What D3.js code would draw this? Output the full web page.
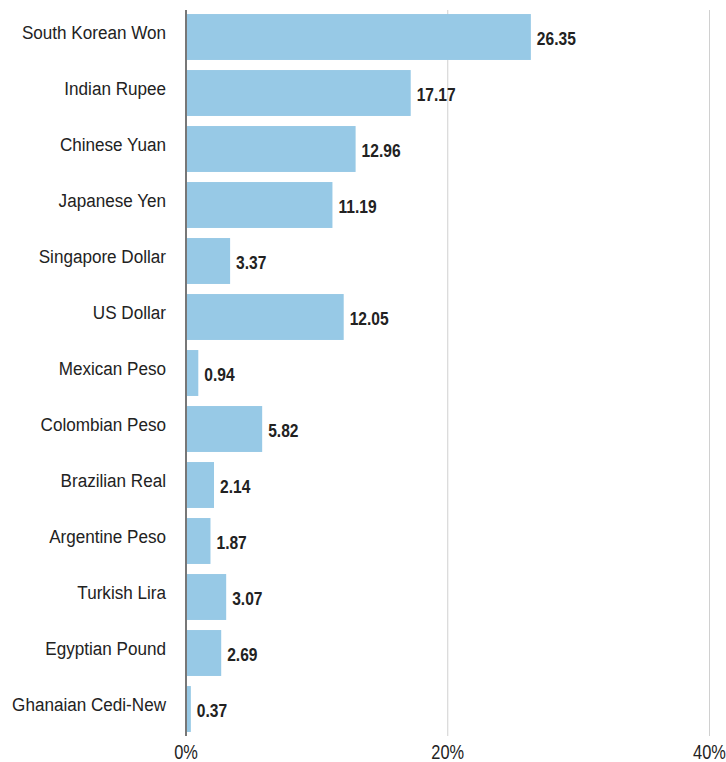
<!DOCTYPE html>
<html><head><meta charset="utf-8">
<script src="https://cdn.jsdelivr.net/npm/d3@7"></script>
<style>
html,body{margin:0;padding:0;background:#fff;}
svg{display:block;}
text{font-family:"Liberation Sans",Arial,sans-serif;}
</style>
</head><body>
<svg id="chart" width="726" height="762"></svg>
<script>
const categories = ["South Korean Won","Indian Rupee","Chinese Yuan","Japanese Yen","Singapore Dollar","US Dollar","Mexican Peso","Colombian Peso","Brazilian Real","Argentine Peso","Turkish Lira","Egyptian Pound","Ghanaian Cedi-New"];
const values = [26.35,17.17,12.96,11.19,3.37,12.05,0.94,5.82,2.14,1.87,3.07,2.69,0.37];
const xTicks = [0,20,40];
const xTickLabels = ["0%","20%","40%"];

const svg = d3.select("#chart");
const x = d3.scaleLinear().domain([0,40]).range([186,709.5]);
const y = d3.scaleBand().domain(categories).range([9,737]).paddingInner(0.18).paddingOuter(0.09);
const SX = 0.82;
const SXC = 0.9;

// gridlines
svg.append("g").selectAll("line").data(xTicks.filter(d=>d>0)).join("line")
  .attr("x1",d=>x(d)).attr("x2",d=>x(d)).attr("y1",10).attr("y2",736)
  .attr("stroke","#d0d0d0").attr("stroke-width",1);

// bars
svg.append("g").selectAll("rect").data(values).join("rect")
  .attr("x",x(0)).attr("y",(d,i)=>y(categories[i]))
  .attr("width",d=>x(d)-x(0)).attr("height",y.bandwidth())
  .attr("fill","#97c9e6");

// axis line
svg.append("line").attr("x1",x(0)).attr("x2",x(0)).attr("y1",10).attr("y2",736)
  .attr("stroke","#777").attr("stroke-width",2);

// category labels
svg.append("g").selectAll("text").data(categories).join("text")
  .attr("transform",d=>`translate(166,${y(d)+y.bandwidth()/2+2}) scale(${SXC},1)`)
  .attr("text-anchor","end").attr("font-size",19).attr("fill","#222")
  .text(d=>d);

// value labels
svg.append("g").selectAll("text").data(values).join("text")
  .attr("transform",(d,i)=>`translate(${x(d)+6},${y(categories[i])+y.bandwidth()/2+8}) scale(${SX},1)`)
  .attr("font-size",19).attr("font-weight","bold").attr("fill","#222")
  .text(d=>d.toFixed(2));

// tick labels
svg.append("g").selectAll("text").data(xTicks).join("text")
  .attr("transform",(d,i)=>`translate(${x(d)},759) scale(${SX},1)`)
  .attr("text-anchor","middle").attr("font-size",20).attr("fill","#222")
  .text((d,i)=>xTickLabels[i]);
</script>
</body></html>
